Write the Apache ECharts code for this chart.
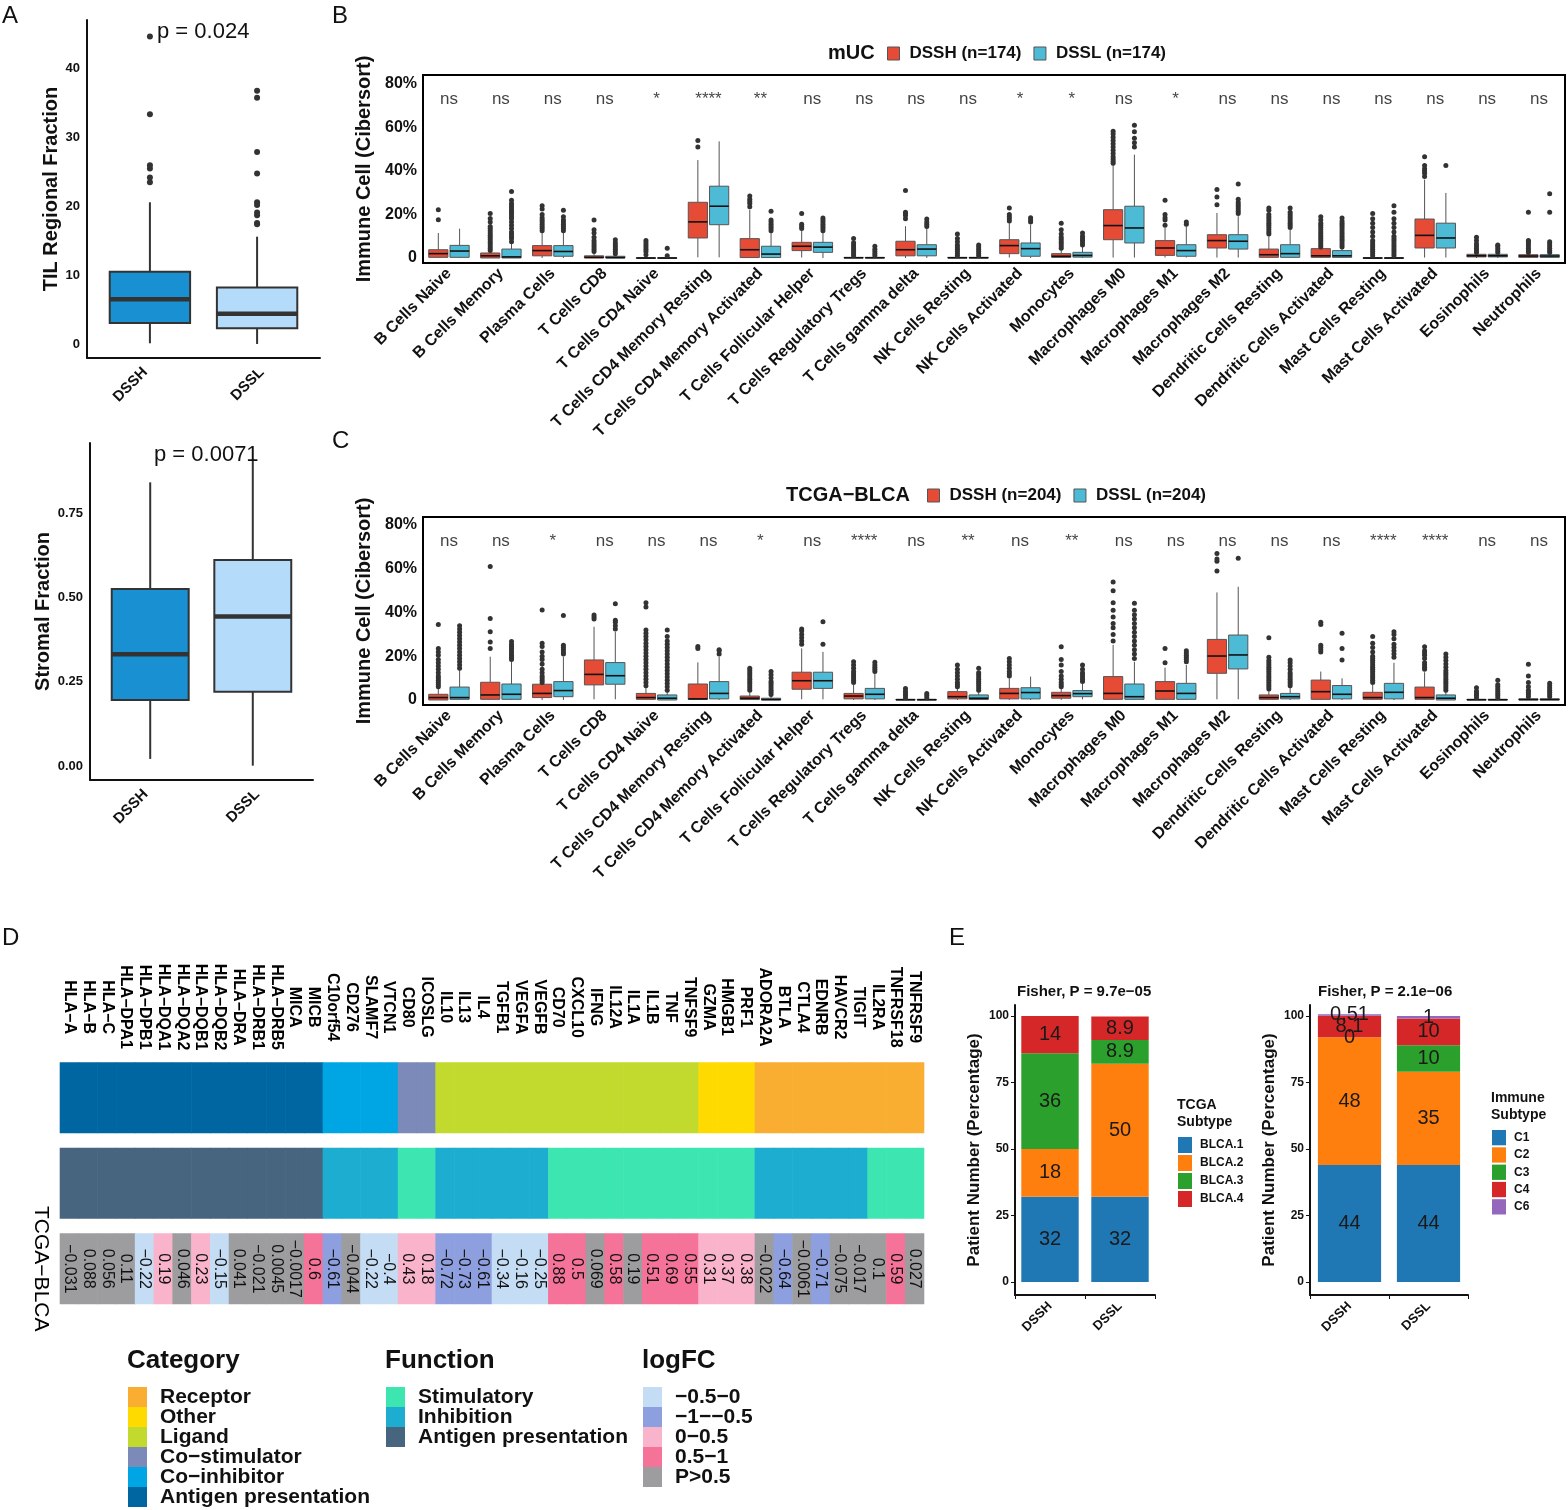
<!DOCTYPE html>
<html><head><meta charset="utf-8">
<script src="https://cdn.jsdelivr.net/npm/echarts@6/dist/echarts.min.js"></script>
<style>html,body{margin:0;padding:0;background:#fff}#c{width:1568px;height:1510px}</style>
</head><body><div id="c"></div>
<script>
const FONT = '"Liberation Sans", Arial, Helvetica, sans-serif';

// ---------------- Panel A ----------------
const groupsA = ['DSSH', 'DSSL'];
const tilStats = [[0.1, 3.05, 6.5, 10.5, 20.6], [0, 2.3, 4.4, 8.2, 15.6]];
const tilOutDSSH = [23.5, 24.2, 25.5, 26, 33.4, 44.7];
const tilOutDSSL = [17.4, 17.6, 18.7, 19.1, 20.2, 20.6, 24.8, 27.9, 35.8, 36.8];
const tilTicks = [0, 10, 20, 30, 40];
const stromalStats = [[0.021, 0.196, 0.331, 0.525, 0.841], [0.001, 0.22, 0.443, 0.611, 0.909]];
const stromalTicks = [0, 0.25, 0.5, 0.75];
const colorsA = ['#1890D2', '#B4DBFA'];

// ---------------- Panels B / C ----------------
const cellTypes = ['B Cells Naive','B Cells Memory','Plasma Cells','T Cells CD8','T Cells CD4 Naive','T Cells CD4 Memory Resting','T Cells CD4 Memory Activated','T Cells Follicular Helper','T Cells Regulatory Tregs','T Cells gamma delta','NK Cells Resting','NK Cells Activated','Monocytes','Macrophages M0','Macrophages M1','Macrophages M2','Dendritic Cells Resting','Dendritic Cells Activated','Mast Cells Resting','Mast Cells Activated','Eosinophils','Neutrophils'];
const pctTicks = [0, 20, 40, 60, 80];

const mucSig = ['ns','ns','ns','ns','*','****','**','ns','ns','ns','ns','*','*','ns','*','ns','ns','ns','ns','ns','ns','ns'];
const mucDSSH = [[0,0.3,2,3.8,11.5],[0,0,1,2.3,3.2],[0,1,3.4,5.7,11.5],[0,0,0.3,1,2.5],[0,0,0,0.1,0.3],[0.3,9.2,16.6,25.6,45],[0,0.2,3.8,8.9,22.2],[0.2,3.4,5.4,7.2,12.5],[0,0,0.1,0.3,0.8],[0,1,3.8,7.7,14.6],[0,0,0.1,0.3,0.8],[0.2,2,5.7,8.4,16],[0,0.3,0.8,2,4],[0.2,8.4,14.9,22.2,42.9],[0.2,1.2,4.6,8,13.8],[0.2,4.6,8,10.7,20.7],[0,0.3,1.5,4.1,10],[0,0.3,1,4.3,9.8],[0,0,0,0.1,0.5],[0.2,4.6,10.4,17.9,36],[0,0.5,1,1.7,2.2],[0,0.3,0.9,1.5,2.2]];
const mucDSSL = [[0,0.3,3.2,5.8,13.5],[0,0,0.5,4.1,7],[0,0.8,3,5.7,11.8],[0,0,0.2,0.8,1.8],[0,0,0,0.1,0.3],[0.3,15.3,23.8,33,53.6],[0,0.2,1.8,5.4,11.5],[0,2.6,5,7.2,11.8],[0,0,0.1,0.3,0.7],[0,1,4.1,6.1,13.8],[0,0,0.1,0.3,0.7],[0,0.8,4.3,6.9,15.3],[0,0.4,1.2,2.6,5.5],[0.2,6.9,13.8,23.8,47.5],[0.2,0.8,3.4,6.1,14.6],[0.2,4.1,7.7,10.7,19.2],[0,0.3,2,6.1,13],[0,0.3,1,3.4,8],[0,0,0,0.1,0.5],[0.2,4.6,9.2,16,29.9],[0,0.5,1,1.7,2],[0,0.3,0.9,1.5,2.2]];
const mucOutDSSH = [[17.6,22.2],[3.5,4.5,5.5,6.5,7.5,8.5,9.5,10.5,11.5,12.5,13.5,14.5,16.5,18.2,20.5],[12.5,13.5,14.5,15.5,16.5,17.5,18.5,20,22.5,24],[3,4,5,6,7,8,9.5,11.5,13,17.5],[1.5,3,4,5,6,7,8],[51,54],[23.5,25,26,27,28.5],[13.5,14.5,15.5,20.5],[1,2,3,4,5,6,7,9],[18,19.5,20.5,21,31],[1,2,3,4,5,6,7.5,9,11],[17,18,19,20,23],[4.5,5.5,6.5,7.5,8.5,9.5,11,13,16],[43.5,44.5,45.5,46.5,48,49.5,51,52.5,54,55.5,57,58.3],[15,17.5,18.5,20,26.5],[24.5,28,31.5],[11,12,13,14,15,16,17,18,19,20,22,23],[5,6,7,8,9,10,11,12,13,14,15,16,17.5,19],[1,2,3,4,5,6,7,8,10,12,14,16,18,20.5],[37.5,39,40,41,42.5,46.5],[2.5,3.5,4.5,5.5,6.5,8,9.5],[2.5,3.5,4.5,5.5,6.5,7.5,8,21]];
const mucOutDSSL = [[],[7.5,9,10,11,12,13.5,15,16.5,18,19,20,21,22,23,24,25,26.5,30.6],[12.5,13.5,14.5,15.5,16.5,17.5,19,22],[2,3,4,5,6,7,8.4],[1,4.5],[],[12.5,13.5,14.5,15.5,16.5,17.5,21.5],[12.5,13.5,14.5,15.5,16.5,17.5,18.4],[1,2,3,4,5.4],[14.5,15.5,16.5,17.9],[1,2,3,4,5,6],[16.5,17.5,18.5],[6,7,8,9,10,11.5],[51,53,55,58,61],[15.5,16.5],[20.5,21.5,22.5,23.5,24.5,25.5,27,34],[14,15,16,17,18,19,20,21,23],[5,6,7,8,9,10,11,12,13,14,15,16,17,18.4],[1,2,3,4,5,6,7,8,9,10,12,14,16,18,21,24],[42.5],[2.5,3.5,4.5,5.5,6],[2.5,3.5,4.5,5.5,6.5,7.5,21,29.5]];

const tcgaSig = ['ns','ns','*','ns','ns','ns','*','ns','****','ns','**','ns','**','ns','ns','ns','ns','ns','****','****','ns','ns'];
const tcgaDSSH = [[0,0,1.1,2.6,5.3],[0,0.3,2.3,8.1,19.8],[0,1.1,3,7.2,15.7],[0.3,6.9,11.7,18.3,33.5],[0,0.3,1.1,3,5.5],[0,0.3,0.5,7.3,17.2],[0,0.2,0.8,1.8,3.5],[0.3,4.9,8.8,12.7,23.6],[0,0.5,1.8,3,6.9],[0,0,0.1,0.3,0.6],[0,0.5,1.5,3.8,5.3],[0,0.5,3,5.3,9.9],[0,0.8,2,3.5,5.3],[0,0.3,3,10.7,25.2],[0,0.3,4.1,8.4,14.8],[0.3,12.2,20.1,27.7,49.2],[0,0.3,1.1,2.3,4.5],[0,0.3,3.8,9.1,13],[0,0.3,1.1,3.5,6.9],[0,0.3,1.1,5.9,12.7],[0,0,0.1,0.3,0.6],[0,0,0.2,0.5,1]];
const tcgaDSSL = [[0,0.3,1.1,5.9,13.7],[0,0.3,2.6,7.3,17.5],[0,1.5,4.3,8.4,19.8],[0.3,7.2,11.1,17.1,31.2],[0,0,0.8,2.3,3.8],[0,0.5,3,8.4,19.8],[0,0,0.2,0.8,1.8],[0.3,5.3,8.8,12.7,22],[0,0.5,2.6,5.3,12.2],[0,0,0.1,0.3,0.6],[0,0.2,0.8,2.3,3.8],[0,0.5,3.4,5.6,10.7],[0.3,1.5,2.9,4.3,7.6],[0,0.3,1.5,7.3,17.5],[0,0.3,3,7.6,16],[0.3,14.2,20.6,29.7,51.8],[0,0.5,1.5,3,5.5],[0,0.5,2.6,6.6,9.9],[0,0.5,3.5,7.6,17],[0,0,0.8,2.3,3.8],[0,0,0.1,0.3,0.6],[0,0,0.2,0.5,1]];
const tcgaOutDSSH = [[6,7,8,9,10,11,12.5,14,15.5,17,18.5,20.5,22,23.5,34.5],[23.5,26.5,31.2,37.3,61],[8,9,10,11,12.5,14,16.5,18.5,20,22,24.5,26,41.2],[37,38,38.9],[6.5,8,9.5,11,12.5,14,15.5,17,18.5,20,21.5,23,24.5,26,27.5,29,30.5,32,42.5,44.5],[23.5,24.5],[4.5,5.5,6.5,7.5,8.5,9.5,10.5,11.5,12.5,13.5,14.5],[25.5,27,28.5,30,31.5,32.5],[8,9,10,11,12,13,14.5,16,17.5],[1,2,3,4,5.3],[6,7,8,9.5,11,12.5,14,16],[11,12,13,14.5,16,17.5,19],[6,7,8,9.5,11,13,16,18.5,24.4],[27,30,33,35,38,41,44.5,50,54],[17,23.6],[59,63.5,64.5,67],[5,6,7,8,9,10,11,12,13,14,15,16,17,18,19.5,28.5],[22,23,24,25,34.5,35.5],[8,9,10,11,12,13,14,15,16,17,18,19,20,22,24,26,29],[14,15,16,17,19,20.5,21.5,22.5,24.4],[1,2,3,4,5.6],[1.5,2.5,3.5,4.5,6,8,11,16.3]];
const tcgaOutDSSL = [[14.5,16,17.5,19,20.5,22,23.5,25,26.5,28,29.5,31,32.5,34],[18.5,19.5,20.5,21.5,22.5,23.5,24.5,25.5,26.7],[21,22,23,24,25,38.6],[32.5,34,35.5,36.5,44],[4.5,6,7.5,9,10.5,12,13.5,15,16.5,18,19.5,21,22.5,24,25.5,27,29,32],[21,22.5,23],[2.5,3.5,4.5,5.5,6.5,7.5,8.5,10,11.5,13],[25.5,35.8],[13,14,15,16,17.2],[1,2,3],[4.5,5.5,6.5,7.5,8.5,9.5,10.5,11.5,12.5,14.5],[],[8.5,9.5,10.5,11.5,12.5,14,16],[19,21,23,25,27,29,31,33,35,37,39,41,44.2],[17.5,18.5,19.5,20.5,21.5,22.5],[64.8],[6.5,7.5,8.5,9.5,10.5,11.5,12.5,14,15.5,17,18.3],[18.3,23.5,30.5],[19.5,21,22.5,24,25.5,28,30,31.2],[4.5,5.5,6.5,7.5,8.5,9.5,10.5,11.5,12.5,13.5,15,16.5,18,19.5,21],[1,2,3,4,5,6,7,9],[1.5,2.5,3.5,4.5,5.5,6.5,7.6]];
const colorH = '#E64B35', colorL = '#4DBBD5';

// ---------------- Panel D ----------------
const genes = ['HLA−A','HLA−B','HLA−C','HLA−DPA1','HLA−DPB1','HLA−DQA1','HLA−DQA2','HLA−DQB1','HLA−DQB2','HLA−DRA','HLA−DRB1','HLA−DRB5','MICA','MICB','C10orf54','CD276','SLAMF7','VTCN1','CD80','ICOSLG','IL10','IL13','IL4','TGFB1','VEGFA','VEGFB','CD70','CXCL10','IFNG','IL12A','IL1A','IL1B','TNF','TNFSF9','GZMA','HMGB1','PRF1','ADORA2A','BTLA','CTLA4','EDNRB','HAVCR2','TIGIT','IL2RA','TNFRSF18','TNFRSF9'];
const geneCategory = ['AP','AP','AP','AP','AP','AP','AP','AP','AP','AP','AP','AP','AP','AP','CI','CI','CI','CI','CS','CS','LG','LG','LG','LG','LG','LG','LG','LG','LG','LG','LG','LG','LG','LG','OT','OT','OT','RC','RC','RC','RC','RC','RC','RC','RC','RC'];
const geneFunction = ['AP','AP','AP','AP','AP','AP','AP','AP','AP','AP','AP','AP','AP','AP','IN','IN','IN','IN','ST','ST','IN','IN','IN','IN','IN','IN','ST','ST','ST','ST','ST','ST','ST','ST','ST','ST','ST','IN','IN','IN','IN','IN','IN','ST','ST','ST'];
const logFC = [-0.031,0.088,0.056,0.11,-0.22,0.19,0.046,0.23,-0.15,0.041,-0.021,0.0045,-0.0017,0.6,-0.61,-0.044,-0.22,-0.4,0.43,0.18,-0.72,-0.73,-0.61,-0.34,-0.16,-0.25,0.88,0.5,0.069,0.58,0.19,0.51,0.69,0.55,0.31,0.37,0.38,-0.022,-0.64,-0.0061,-0.71,-0.075,-0.017,0.1,0.59,0.027];
const logFCSig = [0,0,0,0,1,1,0,1,1,0,0,0,0,1,1,0,1,1,1,1,1,1,1,1,1,1,1,1,0,1,0,1,1,1,1,1,1,0,1,0,1,0,0,0,1,0];
const categoryNames = {RC:'Receptor', OT:'Other', LG:'Ligand', CS:'Co−stimulator', CI:'Co−inhibitor', AP:'Antigen presentation'};
const categoryColors = {RC:'#F9AE32', OT:'#FFDA00', LG:'#C2D92E', CS:'#7B8AB8', CI:'#00A5E3', AP:'#0066A1'};
const categoryOrder = ['RC','OT','LG','CS','CI','AP'];
const functionNames = {ST:'Stimulatory', IN:'Inhibition', AP:'Antigen presentation'};
const functionColors = {ST:'#3DE6B0', IN:'#1CADD0', AP:'#47657F'};
const functionOrder = ['ST','IN','AP'];
const logFCBins = ['−0.5−0','−1−−0.5','0−0.5','0.5−1','P>0.5'];
const logFCColors = ['#C4DDF4','#8E9FE0','#F9B4CB','#F57399','#9D9DA0'];
const rowsD = ['Category','Function','TCGA−BLCA'];

// ---------------- Panel E ----------------
const groupsE = ['DSSH','DSSL'];
const tcgaSubtypes = ['BLCA.1','BLCA.2','BLCA.3','BLCA.4'];
const subtypeDSSH = [32, 18, 36, 14];
const subtypeDSSL = [32, 50, 8.9, 8.9];
const immuneSubtypes = ['C1','C2','C3','C4','C6'];
const immuneDSSH = [44, 48, 0, 8.1, 0.51];
const immuneDSSL = [44, 35, 10, 10, 1];
const eTicks = [0, 25, 50, 75, 100];
const eColors = ['#1F77B4','#FF7F0E','#2CA02C','#D62728','#9467BD'];

// ---------------- helpers ----------------
function boxSeries(o) {
  const offs = Array.isArray(o.offset) ? o.offset : null;
  return {
    type: 'custom', name: o.name, xAxisIndex: o.axis, yAxisIndex: o.axis,
    itemStyle: {color: Array.isArray(o.fill) ? o.fill[0] : o.fill},
    data: o.stats.map((s, i) => [i].concat(s)),
    encode: {x: 0, y: [1, 2, 3, 4, 5]},
    silent: true,
    renderItem: function (params, api) {
      const i = api.value(0);
      const bw = api.size([1, 0])[0];
      const off = offs ? offs[params.dataIndex] : o.offset;
      const cx = api.coord([i, 0])[0] + off * bw;
      const hw = o.width * bw / 2;
      const y = k => api.coord([i, api.value(k)])[1];
      const lo = y(1), q1 = y(2), md = y(3), q3 = y(4), hi = y(5);
      const fill = Array.isArray(o.fill) ? o.fill[params.dataIndex] : o.fill;
      const ls = {stroke: o.stroke, lineWidth: o.lw};
      return {type: 'group', children: [
        {type: 'line', shape: {x1: cx, y1: lo, x2: cx, y2: q1}, style: ls},
        {type: 'line', shape: {x1: cx, y1: q3, x2: cx, y2: hi}, style: ls},
        {type: 'rect', shape: {x: cx - hw, y: q3, width: 2 * hw, height: Math.max(q1 - q3, 0.6)}, style: {fill: fill, stroke: o.stroke, lineWidth: o.lw}},
        {type: 'line', shape: {x1: cx - hw, y1: md, x2: cx + hw, y2: md}, style: {stroke: o.med, lineWidth: o.mw}}
      ]};
    }
  };
}
function outlierSeries(axis, lists, offsetPx, size, name) {
  const data = [];
  lists.forEach((arr, i) => arr.forEach(v => data.push([i, v])));
  return {type: 'scatter', name: name, xAxisIndex: axis, yAxisIndex: axis, data: data,
    symbolSize: size, symbolOffset: [offsetPx, 0], itemStyle: {color: '#333', opacity: 1}, silent: true, z: 3};
}
function sigSeries(axis, sig, yPos) {
  return {type: 'scatter', xAxisIndex: axis, yAxisIndex: axis, symbolSize: 1,
    itemStyle: {color: 'rgba(0,0,0,0)'}, silent: true,
    data: sig.map((s, i) => [i, yPos]),
    label: {show: true, position: 'inside', formatter: p => sig[p.dataIndex], fontSize: 17, color: '#111', fontFamily: FONT}};
}
const minus = v => v < 0 ? '−' + String(-v) : String(v);
function logFCBin(i) {
  if (!logFCSig[i]) return 4;
  const v = logFC[i];
  if (v <= -0.5) return 1;
  if (v < 0) return 0;
  if (v < 0.5) return 2;
  return 3;
}

// ---------------- layout ----------------
const gridB = {left: 423, top: 75, width: 1142, height: 188};
const gridC = {left: 423, top: 517, width: 1142, height: 188};
const bandBC = gridB.width / cellTypes.length;
const boxOff = 0.205, boxW = 0.37;
const gridA1 = {left: 87, top: 20, width: 233, height: 338};
const offA = [0.04, -0.04];

const grids = [
  gridA1,
  {left: 90, top: 443, width: 223, height: 337},
  Object.assign({show: true, borderColor: '#000', borderWidth: 2}, gridB),
  Object.assign({show: true, borderColor: '#000', borderWidth: 2}, gridC),
  {left: 60, top: 1055, width: 864, height: 256.5},
  {left: 1015, top: 1005, width: 140, height: 290},
  {left: 1310, top: 1005, width: 158, height: 290}
];

const axisLineBlack = {show: true, onZero: false, lineStyle: {color: '#111', width: 2}};
const boldLbl = (sz) => ({fontSize: sz, fontWeight: 'bold', color: '#111', fontFamily: FONT});

const xAxes = [
  {gridIndex: 0, type: 'category', data: groupsA, axisLine: axisLineBlack, axisTick: {show: false},
    axisLabel: Object.assign(boldLbl(15), {rotate: 45, margin: 12, interval: 0})},
  {gridIndex: 1, type: 'category', data: groupsA, axisLine: axisLineBlack, axisTick: {show: false},
    axisLabel: Object.assign(boldLbl(15), {rotate: 45, margin: 12, interval: 0})},
  {gridIndex: 2, type: 'category', data: cellTypes, axisLine: {show: false}, axisTick: {show: false},
    axisLabel: Object.assign(boldLbl(16), {rotate: 45, margin: 8, interval: 0})},
  {gridIndex: 3, type: 'category', data: cellTypes, axisLine: {show: false}, axisTick: {show: false},
    axisLabel: Object.assign(boldLbl(16), {rotate: 45, margin: 8, interval: 0})},
  {gridIndex: 4, type: 'category', data: genes, position: 'top', axisLine: {show: false}, axisTick: {show: false},
    axisLabel: {show: false}},
  {gridIndex: 5, type: 'category', data: groupsE, axisLine: axisLineBlack, axisTick: {show: true, length: 4, lineStyle: {color: '#111'}},
    axisLabel: Object.assign(boldLbl(13), {rotate: 45, margin: 9, interval: 0})},
  {gridIndex: 6, type: 'category', data: groupsE, axisLine: axisLineBlack, axisTick: {show: true, length: 4, lineStyle: {color: '#111'}},
    axisLabel: Object.assign(boldLbl(13), {rotate: 45, margin: 9, interval: 0})}
];

const pctFmt = v => v === 0 ? '0' : v + '%';
const yAxes = [
  {gridIndex: 0, type: 'value', min: -2.04, max: 47.1, splitLine: {show: false}, axisLine: axisLineBlack,
    axisTick: {show: false, customValues: tilTicks},
    axisLabel: Object.assign(boldLbl(13), {customValues: tilTicks, margin: 7}),
    name: 'TIL Regional Fraction', nameLocation: 'middle', nameGap: 18, nameTextStyle: boldLbl(20)},
  {gridIndex: 1, type: 'value', min: -0.0415, max: 0.9576, splitLine: {show: false}, axisLine: axisLineBlack,
    axisTick: {show: false, customValues: stromalTicks},
    axisLabel: Object.assign(boldLbl(13), {customValues: stromalTicks, margin: 7, formatter: v => v.toFixed(2)}),
    name: 'Stromal Fraction', nameLocation: 'middle', nameGap: 27, nameTextStyle: boldLbl(20)},
  {gridIndex: 2, type: 'value', min: -2.3, max: 84.1, splitLine: {show: false}, axisLine: {show: false},
    axisTick: {show: false, customValues: pctTicks},
    axisLabel: Object.assign(boldLbl(16), {customValues: pctTicks, margin: 6, formatter: pctFmt}),
    name: 'Immune Cell (Cibersort)', nameLocation: 'middle', nameGap: 40, nameTextStyle: boldLbl(20)},
  {gridIndex: 3, type: 'value', min: -2.3, max: 83.7, splitLine: {show: false}, axisLine: {show: false},
    axisTick: {show: false, customValues: pctTicks},
    axisLabel: Object.assign(boldLbl(16), {customValues: pctTicks, margin: 6, formatter: pctFmt}),
    name: 'Immune Cell (Cibersort)', nameLocation: 'middle', nameGap: 40, nameTextStyle: boldLbl(20)},
  {gridIndex: 4, type: 'category', data: rowsD, inverse: true, axisLine: {show: false}, axisTick: {show: false},
    axisLabel: {formatter: (v, i) => i === 2 ? v : '', rotate: -90, align: 'center', verticalAlign: 'middle', margin: 19,
      fontSize: 21, color: '#000', fontFamily: FONT}},
  {gridIndex: 5, type: 'value', min: -4.9, max: 104.1, splitLine: {show: false}, axisLine: axisLineBlack,
    axisTick: {show: true, length: 4, customValues: eTicks, lineStyle: {color: '#111'}},
    axisLabel: Object.assign(boldLbl(12), {customValues: eTicks, margin: 6}),
    name: 'Patient Number (Percentage)', nameLocation: 'middle', nameGap: 32, nameTextStyle: boldLbl(17)},
  {gridIndex: 6, type: 'value', min: -4.9, max: 104.1, splitLine: {show: false}, axisLine: axisLineBlack,
    axisTick: {show: true, length: 4, customValues: eTicks, lineStyle: {color: '#111'}},
    axisLabel: Object.assign(boldLbl(12), {customValues: eTicks, margin: 6}),
    name: 'Patient Number (Percentage)', nameLocation: 'middle', nameGap: 32, nameTextStyle: boldLbl(17)}
];

const series = [];
// Panel A
const bandA1 = gridA1.width / groupsA.length;
series.push(boxSeries({axis: 0, name: 'TIL', stats: tilStats, offset: offA, width: 0.69, fill: colorsA, stroke: '#333', lw: 2, med: '#333', mw: 4.5}));
series.push(outlierSeries(0, [tilOutDSSH, []], offA[0] * bandA1, 6, 'til-out-h'));
series.push(outlierSeries(0, [[], tilOutDSSL], offA[1] * bandA1, 6, 'til-out-l'));
series.push(boxSeries({axis: 1, name: 'Stromal', stats: stromalStats, offset: offA, width: 0.69, fill: colorsA, stroke: '#333', lw: 2, med: '#333', mw: 4.5}));
// Panel B
series.push(boxSeries({axis: 2, name: 'DSSH (n=174)', stats: mucDSSH, offset: -boxOff, width: boxW, fill: colorH, stroke: '#555', lw: 1, med: '#111', mw: 1.6}));
series.push(boxSeries({axis: 2, name: 'DSSL (n=174)', stats: mucDSSL, offset: boxOff, width: boxW, fill: colorL, stroke: '#555', lw: 1, med: '#111', mw: 1.6}));
series.push(outlierSeries(2, mucOutDSSH, -boxOff * bandBC, 5, 'muc-h-out'));
series.push(outlierSeries(2, mucOutDSSL, boxOff * bandBC, 5, 'muc-l-out'));
series.push(sigSeries(2, mucSig, 73));
// Panel C
series.push(boxSeries({axis: 3, name: 'DSSH (n=204)', stats: tcgaDSSH, offset: -boxOff, width: boxW, fill: colorH, stroke: '#555', lw: 1, med: '#111', mw: 1.6}));
series.push(boxSeries({axis: 3, name: 'DSSL (n=204)', stats: tcgaDSSL, offset: boxOff, width: boxW, fill: colorL, stroke: '#555', lw: 1, med: '#111', mw: 1.6}));
series.push(outlierSeries(3, tcgaOutDSSH, -boxOff * bandBC, 5, 'tcga-h-out'));
series.push(outlierSeries(3, tcgaOutDSSL, boxOff * bandBC, 5, 'tcga-l-out'));
series.push(sigSeries(3, tcgaSig, 72.7));

// Panel D heatmap (custom cells) + gene labels
const cellData = [], cellColor = [], cellText = [], cellGene = [];
genes.forEach((g, i) => {
  cellData.push([i, 0]); cellColor.push(categoryColors[geneCategory[i]]); cellText.push(''); cellGene.push(g);
  cellData.push([i, 1]); cellColor.push(functionColors[geneFunction[i]]); cellText.push(''); cellGene.push('');
  cellData.push([i, 2]); cellColor.push(logFCColors[logFCBin(i)]); cellText.push(minus(logFC[i])); cellGene.push('');
});
series.push({
  type: 'custom', xAxisIndex: 4, yAxisIndex: 4, data: cellData, encode: {x: 0, y: 1}, silent: true, clip: false,
  renderItem: function (params, api) {
    const c = api.coord([api.value(0), api.value(1)]);
    const s = api.size([1, 1]);
    const h = s[1] * 0.83;
    const k = params.dataIndex;
    const children = [{type: 'rect', shape: {x: c[0] - s[0] / 2 - 0.3, y: c[1] - h / 2, width: s[0] + 0.6, height: h},
      style: {fill: cellColor[k]}}];
    if (cellText[k]) children.push({type: 'text', x: c[0], y: c[1], rotation: -Math.PI / 2, z2: 10,
      style: {text: cellText[k], align: 'center', verticalAlign: 'middle', fill: '#111', font: '16px ' + FONT}});
    if (cellGene[k]) children.push({type: 'text', x: c[0], y: c[1] - 1.06 * s[1], rotation: -Math.PI / 2, z2: 10,
      style: {text: cellGene[k], align: 'center', verticalAlign: 'middle', fill: '#000', font: 'bold 16px ' + FONT}});
    return {type: 'group', children: children};
  }
});

// Panel E
tcgaSubtypes.forEach((n, k) => series.push({type: 'bar', name: n, xAxisIndex: 5, yAxisIndex: 5, stack: 'tcga',
  barWidth: '82%', data: [subtypeDSSH[k], subtypeDSSL[k]], itemStyle: {color: eColors[k]},
  label: {show: true, position: 'inside', fontSize: 20, color: '#1a1a1a', fontFamily: FONT}}));
immuneSubtypes.forEach((n, k) => series.push({type: 'bar', name: n, xAxisIndex: 6, yAxisIndex: 6, stack: 'imm',
  barWidth: '80%', data: [immuneDSSH[k], immuneDSSL[k]], itemStyle: {color: eColors[k]},
  label: {show: true, position: 'inside', fontSize: 20, color: '#1a1a1a', fontFamily: FONT}}));

// ---------------- legends / titles / graphics ----------------
const legendText = {fontSize: 17, fontWeight: 'bold', color: '#111', fontFamily: FONT, padding: [0, 0, 0, 5]};
const legends = [
  {data: ['DSSH (n=174)', 'DSSL (n=174)'], left: 882, top: 40, itemWidth: 12, itemHeight: 13, itemGap: 12, icon: 'rect',
    itemStyle: {borderColor: '#555', borderWidth: 1}, textStyle: legendText, selectedMode: false},
  {data: ['DSSH (n=204)', 'DSSL (n=204)'], left: 922, top: 482, itemWidth: 12, itemHeight: 13, itemGap: 12, icon: 'rect',
    itemStyle: {borderColor: '#555', borderWidth: 1}, textStyle: legendText, selectedMode: false},
  {data: tcgaSubtypes, orient: 'vertical', left: 1173, top: 1132, itemWidth: 14, itemHeight: 16, itemGap: 2, icon: 'rect',
    textStyle: {fontSize: 12, fontWeight: 'bold', color: '#111', fontFamily: FONT, padding: [0, 0, 0, 3]}, selectedMode: false},
  {data: immuneSubtypes, orient: 'vertical', left: 1487, top: 1125, itemWidth: 14, itemHeight: 15.3, itemGap: 2, icon: 'rect',
    textStyle: {fontSize: 12, fontWeight: 'bold', color: '#111', fontFamily: FONT, padding: [0, 0, 0, 3]}, selectedMode: false}
];
const titleStyle = (sz, w) => ({fontSize: sz, fontWeight: w, color: '#111', fontFamily: FONT});
const titles = [
  {text: 'p = 0.024', left: 152, top: 16, textStyle: titleStyle(22, 'normal')},
  {text: 'p = 0.0071', left: 149, top: 439, textStyle: titleStyle(22, 'normal')},
  {text: 'mUC', left: 823, top: 38, textStyle: titleStyle(20, 'bold')},
  {text: 'TCGA−BLCA', left: 781, top: 480, textStyle: titleStyle(20, 'bold')},
  {text: 'Fisher, P = 9.7e−05', left: 1012, top: 979, textStyle: titleStyle(15, 'bold')},
  {text: 'Fisher, P = 2.1e−06', left: 1313, top: 979, textStyle: titleStyle(15, 'bold')},
  {text: 'TCGA\nSubtype', left: 1172, top: 1092, textStyle: Object.assign(titleStyle(14, 'bold'), {lineHeight: 17})},
  {text: 'Immune\nSubtype', left: 1486, top: 1085, textStyle: Object.assign(titleStyle(14, 'bold'), {lineHeight: 17})}
];

const graphics = [];
[['A', 2, 4], ['B', 332, 4], ['C', 332, 429], ['D', 2, 926], ['E', 949, 926]].forEach(p => graphics.push(
  {type: 'text', x: p[1], y: p[2], style: {text: p[0], font: '24px ' + FONT, fill: '#111'}}));
function legendBlock(title, x, keys, names, colors) {
  graphics.push({type: 'text', x: x - 1, y: 1348, style: {text: title, font: 'bold 26px ' + FONT, fill: '#111'}});
  keys.forEach((k, i) => {
    graphics.push({type: 'rect', shape: {x: x, y: 1387 + 20 * i, width: 19, height: 20}, style: {fill: colors[i]}});
    graphics.push({type: 'text', x: x + 32, y: 1397 + 20 * i,
      style: {text: names[i], font: 'bold 21px ' + FONT, fill: '#111', verticalAlign: 'middle'}});
  });
}
legendBlock('Category', 128, categoryOrder, categoryOrder.map(k => categoryNames[k]), categoryOrder.map(k => categoryColors[k]));
legendBlock('Function', 386, functionOrder, functionOrder.map(k => functionNames[k]), functionOrder.map(k => functionColors[k]));
legendBlock('logFC', 643, logFCBins, logFCBins, logFCColors);

const chart = echarts.init(document.getElementById('c'), null, {renderer: 'canvas'});
chart.setOption({
  backgroundColor: '#fff', animation: false,
  textStyle: {fontFamily: FONT},
  grid: grids, xAxis: xAxes, yAxis: yAxes, series: series,
  legend: legends, title: titles, graphic: graphics
});
</script></body></html>
